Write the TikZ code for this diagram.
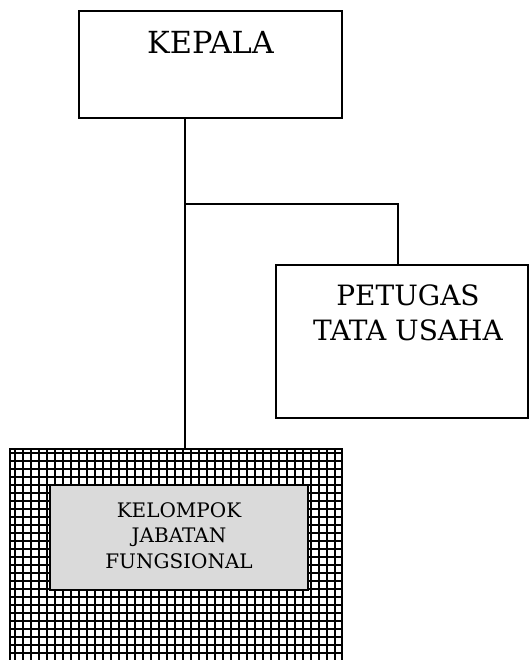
\documentclass[tikz,border=0pt]{standalone}
\usepackage{fontspec}
\setmainfont{DejaVu Serif}
\usetikzlibrary{positioning}
\definecolor{boxgray}{HTML}{DADADA}
\tikzset{
  unit/.style={draw=black,line width=1pt,fill=white,inner sep=0pt},
  unittext/.style={inner sep=0pt,align=center,font=\fontsize{21}{26.25}\selectfont},
  innerbox/.style={draw=black,line width=1pt,fill=boxgray,inner sep=0pt},
  innertext/.style={inner sep=0pt,align=center,font=\fontsize{15}{19.1}\selectfont},
  link/.style={line width=1.1pt},
  gridline/.style={line width=2pt},
}

\begin{document}
\begin{tikzpicture}[x=0.75pt,y=-0.75pt]
    \useasboundingbox (0,0) rectangle (529,660);
    \clip (0,0) rectangle (529,660);
    \fill[white] (0,0) rectangle (529,660);
    % boxes
    \node[unit,minimum width=197.25pt,minimum height=80.25pt] (kepala) at (210.5,64.5) {};
    \node[unittext,font=\fontsize{22.8}{26.25}\selectfont,below=15.5pt of kepala.north] (kepalatext) {KEPALA};
    \node[unit,minimum width=189pt,minimum height=114.75pt] (petugas) at (402,341.5) {};
    \node[unittext,below=15pt of petugas.north,xshift=4.5pt] (petugastext) {PETUGAS\\TATA USAHA};
    \node[unit,minimum width=249pt,minimum height=188.25pt] (jabatan) at (176,574.5) {};
    \begin{scope}
      \clip (jabatan.south west) rectangle (jabatan.north east);
      \foreach \k in {0,...,41} \draw[gridline] (15+\k*8,440) -- (15+\k*8,700);
      \foreach \k in {0,...,30} \draw[gridline] (0,453+\k*8) -- (350,453+\k*8);
    \end{scope}
    \draw[line width=1pt] (jabatan.south west) rectangle (jabatan.north east);
    \node[innerbox,minimum width=193.5pt,minimum height=78.75pt] (fungsional) at (179,537.5) {};
    \node[innertext,yshift=1.5pt] (fungsionaltext) at (fungsional) {KELOMPOK\\JABATAN\\FUNGSIONAL};
    % lines
    \coordinate (trunk) at (185,204);
    \coordinate (tap) at (398,204);
    \draw[link] (kepala.south -| trunk) -- (trunk) -- (jabatan.north -| trunk);
    \draw[link] (trunk) -- (tap) -- (tap |- petugas.north);
  \end{tikzpicture}
\end{document}
